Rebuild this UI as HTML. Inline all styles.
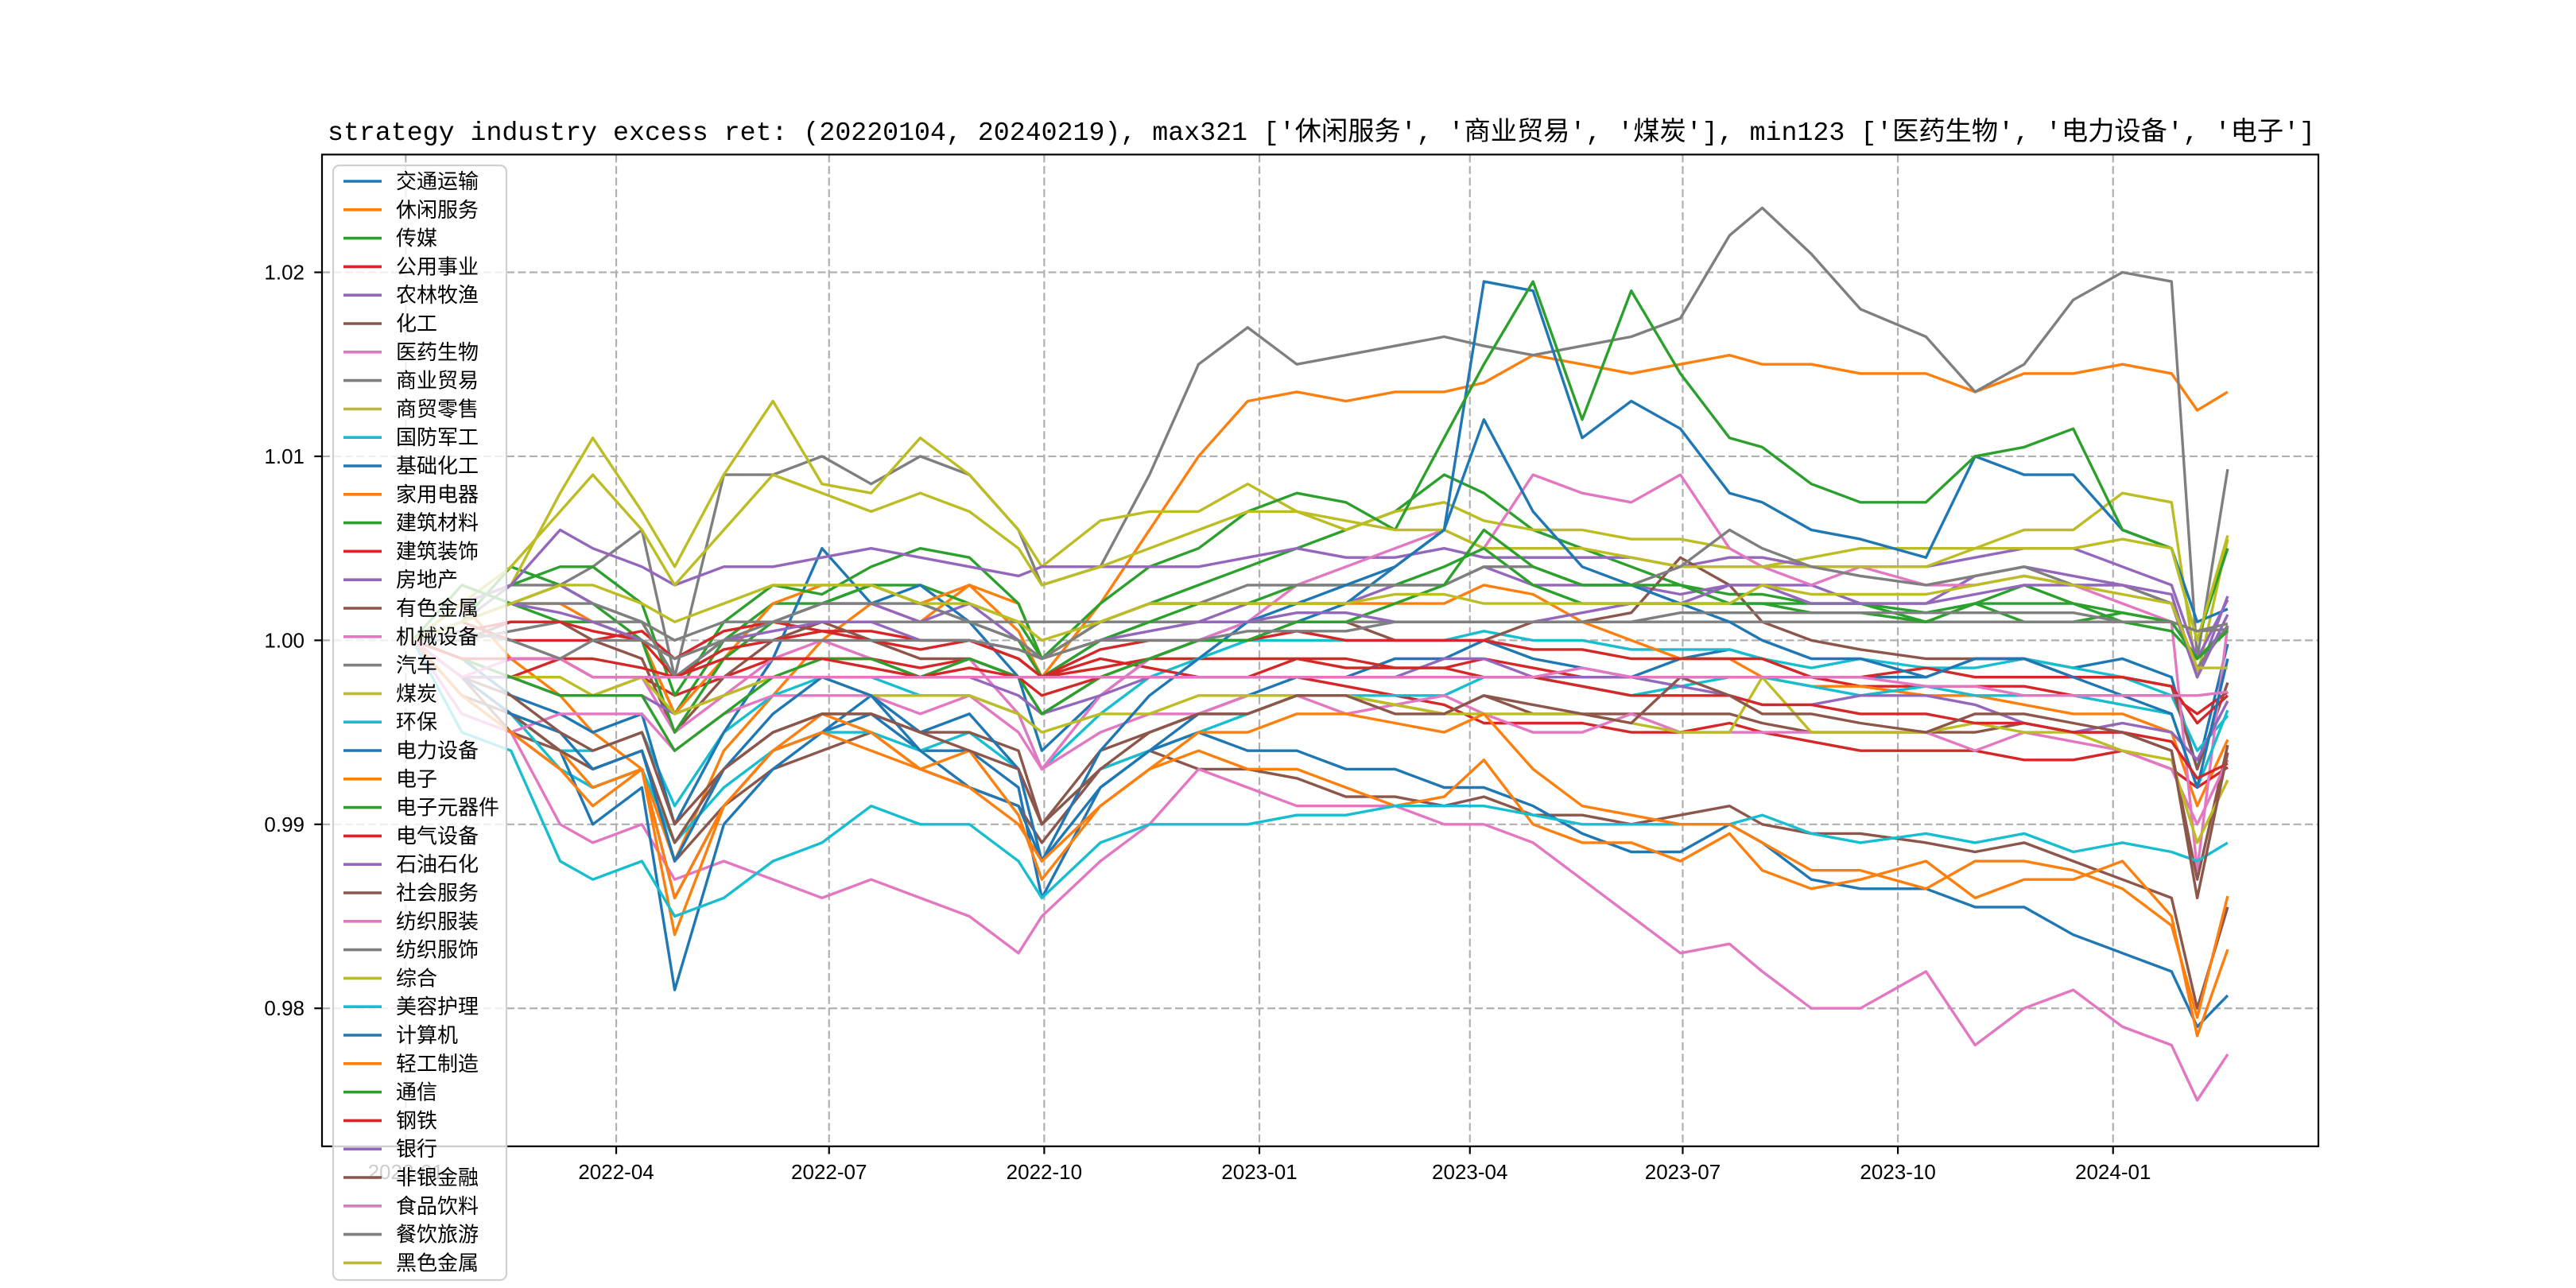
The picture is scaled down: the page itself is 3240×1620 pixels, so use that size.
<!DOCTYPE html>
<html><head><meta charset="utf-8"><style>
html,body{margin:0;padding:0;background:#fff;}
svg{display:block;font-family:"Liberation Sans","Noto Sans CJK SC",sans-serif;}
</style></head><body>
<svg id="chart" width="3240" height="1620" viewBox="0 0 3240 1620" xmlns="http://www.w3.org/2000/svg">
<rect x="0" y="0" width="3240" height="1620" fill="#fff"/>
<text x="1662" y="176" text-anchor="middle" font-size="33" textLength="2500" lengthAdjust="spacingAndGlyphs" font-family="Liberation Mono, Noto Sans CJK SC, monospace">strategy industry excess ret: (20220104, 20240219), max321 ['休闲服务', '商业贸易', '煤炭'], min123 ['医药生物', '电力设备', '电子']</text>
<g id="grid"></g>
<g id="series"></g>
<rect x="405" y="194.4" width="2511" height="1247.4" fill="none" stroke="#000" stroke-width="2.2"/>
<g id="ticks"></g>
<g id="legend"></g>
</svg>
<script>
const dates = ['2022-01-04','2022-01-25','2022-02-15','2022-03-08','2022-03-22','2022-04-12','2022-04-26','2022-05-17','2022-06-07','2022-06-28','2022-07-19','2022-08-09','2022-08-30','2022-09-20','2022-09-30','2022-10-25','2022-11-15','2022-12-06','2022-12-27','2023-01-17','2023-02-07','2023-02-28','2023-03-21','2023-04-07','2023-04-28','2023-05-19','2023-06-09','2023-06-30','2023-07-21','2023-08-04','2023-08-25','2023-09-15','2023-10-13','2023-11-03','2023-11-24','2023-12-15','2024-01-05','2024-01-26','2024-02-06','2024-02-19'];
const names = ['交通运输','休闲服务','传媒','公用事业','农林牧渔','化工','医药生物','商业贸易','商贸零售','国防军工','基础化工','家用电器','建筑材料','建筑装饰','房地产','有色金属','机械设备','汽车','煤炭','环保','电力设备','电子','电子元器件','电气设备','石油石化','社会服务','纺织服装','纺织服饰','综合','美容护理','计算机','轻工制造','通信','钢铁','银行','非银金融','食品饮料','餐饮旅游','黑色金属'];
const yTicks = [0.98, 0.99, 1.00, 1.01, 1.02];
const yTickLabels = ['0.98','0.99','1.00','1.01','1.02'];
const xTicks = ['2022-01-01','2022-04-01','2022-07-01','2022-10-01','2023-01-01','2023-04-01','2023-07-01','2023-10-01','2024-01-01'];
const xTickLabels = ['2022-01','2022-04','2022-07','2022-10','2023-01','2023-04','2023-07','2023-10','2024-01'];

const v00 = [1.0,0.997,0.995,0.993,0.992,0.993,0.986,0.991,0.994,0.995,0.996,0.994,0.994,0.992,0.986,0.992,0.994,0.996,0.997,0.998,0.998,0.999,0.999,1.000,0.999,0.9985,0.998,0.999,0.9995,0.999,0.998,0.998,0.998,0.999,0.999,0.9985,0.999,0.998,0.993,0.9998];
const v01 = [1.0,1.002,0.999,0.997,0.995,0.993,0.988,0.994,0.997,1.000,1.002,1.001,1.003,1.0005,0.998,1.002,1.006,1.010,1.013,1.0135,1.013,1.0135,1.0135,1.014,1.0155,1.015,1.0145,1.015,1.0155,1.015,1.015,1.0145,1.0145,1.0135,1.0145,1.0145,1.015,1.0145,1.0125,1.0135];
const v02 = [1.0,1.001,1.004,1.003,1.002,1.000,0.996,1.000,1.002,1.002,1.003,1.003,1.002,1.001,0.999,1.001,1.002,1.003,1.004,1.005,1.006,1.007,1.009,1.008,1.006,1.005,1.004,1.003,1.0025,1.0025,1.002,1.002,1.0015,1.002,1.001,1.001,1.0015,1.001,0.999,1.0005];
const v03 = [1.0,0.998,0.998,0.999,0.998,0.998,0.997,0.998,0.999,0.999,0.999,0.9985,0.999,0.998,0.998,0.9985,0.999,0.999,0.999,0.999,0.999,0.9985,0.9985,0.999,0.9985,0.998,0.998,0.998,0.998,0.998,0.998,0.9975,0.9975,0.9975,0.9975,0.997,0.997,0.997,0.996,0.9972];
const v04 = [1.0,1.001,1.002,1.003,1.002,1.001,0.998,1.0,1.001,1.002,1.002,1.001,1.002,1.0,0.998,1.0,1.001,1.001,1.002,1.002,1.002,1.003,1.003,1.004,1.003,1.003,1.003,1.0025,1.003,1.003,1.003,1.002,1.002,1.0035,1.004,1.0035,1.003,1.002,0.998,1.0024];
const v05 = [1.0,0.998,0.995,0.994,0.993,0.994,0.988,0.991,0.993,0.994,0.995,0.993,0.992,0.991,0.989,0.993,0.994,0.993,0.993,0.9925,0.9915,0.9915,0.991,0.9915,0.9905,0.9905,0.990,0.9905,0.991,0.990,0.9895,0.9895,0.989,0.9885,0.989,0.988,0.987,0.986,0.980,0.9855];
const v06 = [1.0,0.996,0.995,0.990,0.989,0.990,0.987,0.988,0.987,0.986,0.987,0.986,0.985,0.983,0.985,0.988,0.990,0.993,0.992,0.991,0.991,0.991,0.990,0.990,0.989,0.987,0.985,0.983,0.9835,0.982,0.980,0.980,0.982,0.978,0.980,0.981,0.979,0.978,0.975,0.9775];
const v07 = [1.0,1.001,1.003,1.003,1.004,1.006,0.998,1.009,1.009,1.010,1.0085,1.010,1.009,1.006,1.003,1.004,1.009,1.015,1.017,1.015,1.0155,1.016,1.0165,1.016,1.0155,1.016,1.0165,1.0175,1.022,1.0235,1.021,1.018,1.0165,1.0135,1.015,1.0185,1.020,1.0195,0.999,1.0093];
const v08 = [1.0,1.002,1.003,1.008,1.011,1.007,1.004,1.009,1.013,1.0085,1.008,1.011,1.009,1.006,1.004,1.0065,1.007,1.007,1.0085,1.007,1.006,1.007,1.0075,1.0065,1.006,1.006,1.0055,1.0055,1.005,1.004,1.0045,1.005,1.005,1.005,1.006,1.006,1.008,1.0075,0.998,1.0055];
const v09 = [1.0,0.998,0.996,0.994,0.994,0.995,0.991,0.995,0.997,0.998,0.998,0.997,0.997,0.996,0.993,0.996,0.998,0.999,1.0,1.0,1.0,1.0,1.0,1.0005,1.0,1.0,0.9995,0.9995,0.9995,0.999,0.9985,0.999,0.9985,0.9985,0.999,0.9985,0.998,0.997,0.994,0.9959];
const v10 = [1.0,0.999,0.997,0.996,0.995,0.996,0.990,0.995,0.999,1.005,1.002,1.003,1.001,0.998,0.994,0.997,0.999,1.000,1.001,1.001,1.002,1.004,1.006,1.0195,1.019,1.011,1.013,1.0115,1.008,1.0075,1.006,1.0055,1.0045,1.010,1.009,1.009,1.006,1.005,1.001,1.0017];
const v11 = [1.0,1.001,1.002,1.002,1.001,1.000,0.996,0.999,1.002,1.003,1.003,1.002,1.003,1.002,0.999,1.001,1.002,1.002,1.002,1.002,1.002,1.002,1.002,1.003,1.0025,1.001,1.0,0.999,0.999,0.998,0.9975,0.9975,0.997,0.997,0.9965,0.996,0.996,0.995,0.991,0.9946];
const v12 = [1.0,1.002,1.003,1.004,1.004,1.002,0.997,1.001,1.003,1.0025,1.004,1.005,1.0045,1.002,0.999,1.002,1.004,1.005,1.007,1.008,1.0075,1.006,1.011,1.015,1.0195,1.012,1.019,1.0145,1.011,1.0105,1.0085,1.0075,1.0075,1.010,1.0105,1.0115,1.006,1.005,1.000,1.005];
const v13 = [1.0,1.001,1.000,1.0,1.0,1.0005,0.999,1.0005,1.001,1.0005,1.0005,1.0,1.0,0.999,0.998,0.999,0.9985,0.998,0.998,0.998,0.9975,0.997,0.9965,0.9955,0.9955,0.9955,0.995,0.995,0.9955,0.995,0.9945,0.994,0.994,0.994,0.9935,0.9935,0.994,0.993,0.992,0.9931];
const v14 = [1.0,1.002,1.003,1.006,1.005,1.004,1.003,1.004,1.004,1.0045,1.005,1.0045,1.004,1.0035,1.004,1.004,1.004,1.004,1.0045,1.005,1.0045,1.0045,1.005,1.0045,1.0045,1.0045,1.0045,1.004,1.0045,1.0045,1.004,1.004,1.004,1.0045,1.005,1.005,1.004,1.003,0.999,1.0022];
const v15 = [1.0,1.0,1.001,1.001,1.0,0.999,0.995,0.998,1.0,1.001,1.0,0.999,0.999,0.998,0.996,0.998,0.999,1.0,1.0,1.001,1.001,1.0,1.0,1.0,1.001,1.001,1.0015,1.0045,1.003,1.001,1.0,0.9995,0.999,0.999,0.999,0.998,0.998,0.9975,0.993,0.9977];
const v16 = [1.0,0.999,0.998,0.997,0.997,0.998,0.995,0.997,0.999,1.000,0.999,0.998,0.999,0.996,0.993,0.997,0.999,1.000,1.001,1.003,1.004,1.005,1.006,1.005,1.009,1.008,1.0075,1.009,1.005,1.004,1.003,1.004,1.003,1.003,1.0035,1.003,1.002,1.001,0.9875,1.0008];
const v17 = [1.0,1.0,1.0005,1.001,1.001,1.001,1.0,1.001,1.001,1.001,1.001,1.001,1.001,1.001,1.001,1.001,1.001,1.001,1.001,1.001,1.001,1.001,1.001,1.001,1.001,1.001,1.001,1.001,1.001,1.001,1.001,1.001,1.001,1.001,1.001,1.001,1.001,1.001,1.0005,1.0006];
const v18 = [1.0,1.002,1.004,1.007,1.009,1.006,1.003,1.006,1.009,1.008,1.007,1.008,1.007,1.005,1.003,1.004,1.005,1.006,1.007,1.007,1.0065,1.006,1.006,1.005,1.005,1.005,1.0045,1.004,1.004,1.004,1.004,1.004,1.004,1.005,1.005,1.005,1.0055,1.005,1.0,1.0057];
const v19 = [1.0,0.997,0.996,0.993,0.992,0.993,0.989,0.992,0.994,0.995,0.995,0.994,0.995,0.993,0.990,0.993,0.994,0.995,0.996,0.997,0.997,0.997,0.997,0.998,0.998,0.9975,0.997,0.9975,0.998,0.998,0.9975,0.997,0.9975,0.997,0.997,0.997,0.9965,0.996,0.992,0.9962];
const v20 = [1.0,0.998,0.996,0.994,0.990,0.992,0.981,0.990,0.993,0.995,0.997,0.994,0.992,0.991,0.988,0.992,0.994,0.995,0.994,0.994,0.993,0.993,0.992,0.992,0.991,0.9895,0.9885,0.9885,0.990,0.989,0.987,0.9865,0.9865,0.9855,0.9855,0.984,0.983,0.982,0.979,0.9807];
const v21 = [1.0,0.998,0.996,0.994,0.992,0.993,0.984,0.991,0.994,0.996,0.995,0.993,0.994,0.9905,0.987,0.991,0.993,0.994,0.993,0.993,0.992,0.991,0.9915,0.9935,0.990,0.989,0.989,0.988,0.9895,0.9875,0.9865,0.987,0.988,0.986,0.987,0.987,0.988,0.985,0.9785,0.9832];
const v22 = [1.0,1.003,1.002,1.001,1.001,1.000,0.995,0.999,1.001,1.002,1.003,1.002,1.001,1.0,0.998,1.0,1.001,1.002,1.002,1.003,1.003,1.003,1.004,1.005,1.003,1.002,1.002,1.002,1.002,1.002,1.0015,1.0015,1.001,1.002,1.002,1.002,1.0015,1.001,0.999,1.0007];
const v23 = [1.0,1.0005,1.001,1.001,1.0005,1.0,0.998,0.9995,1.0,1.0005,1.0,0.9995,1.0,0.999,0.998,0.9995,1.0,1.0,1.0,1.0005,1.0,1.0,1.0,1.0,0.9995,0.9995,0.999,0.999,0.999,0.999,0.998,0.998,0.9985,0.998,0.998,0.998,0.998,0.9975,0.9955,0.997];
const v24 = [1.0,0.998,0.998,0.997,0.997,0.997,0.996,0.997,0.998,0.998,0.998,0.998,0.998,0.997,0.996,0.997,0.998,0.998,0.998,0.998,0.998,0.998,0.999,0.999,0.998,0.998,0.998,0.9975,0.997,0.9965,0.9965,0.997,0.997,0.9965,0.9955,0.995,0.9955,0.995,0.9935,0.9967];
const v25 = [1.0,0.997,0.996,0.994,0.993,0.994,0.989,0.993,0.995,0.996,0.996,0.995,0.995,0.994,0.990,0.994,0.995,0.996,0.996,0.997,0.997,0.9965,0.996,0.997,0.996,0.996,0.996,0.996,0.996,0.9955,0.995,0.995,0.995,0.995,0.9955,0.995,0.995,0.994,0.987,0.9943];
const v26 = [1.0,0.996,0.995,0.996,0.996,0.996,0.994,0.996,0.997,0.997,0.997,0.996,0.997,0.995,0.993,0.995,0.996,0.996,0.997,0.997,0.996,0.9965,0.997,0.996,0.995,0.995,0.996,0.995,0.995,0.995,0.995,0.995,0.995,0.994,0.995,0.9945,0.994,0.993,0.990,0.9935];
const v27 = [1.0,1.001,1.002,1.002,1.002,1.001,0.998,1.0,1.001,1.002,1.002,1.002,1.001,1.0,0.999,1.001,1.002,1.002,1.003,1.003,1.003,1.003,1.003,1.004,1.004,1.003,1.003,1.004,1.006,1.005,1.004,1.0035,1.003,1.0035,1.004,1.003,1.003,1.002,0.9985,1.0008];
const v28 = [1.0,0.999,0.998,0.998,0.997,0.998,0.996,0.997,0.998,0.998,0.997,0.997,0.997,0.996,0.995,0.996,0.996,0.997,0.997,0.997,0.997,0.9965,0.996,0.996,0.996,0.996,0.9955,0.995,0.995,0.998,0.995,0.995,0.995,0.9955,0.995,0.995,0.994,0.9935,0.989,0.9924];
const v29 = [1.0,0.995,0.994,0.988,0.987,0.988,0.985,0.986,0.988,0.989,0.991,0.990,0.990,0.988,0.986,0.989,0.990,0.990,0.990,0.9905,0.9905,0.991,0.991,0.991,0.9905,0.990,0.990,0.990,0.990,0.9905,0.9895,0.989,0.9895,0.989,0.9895,0.9885,0.989,0.9885,0.988,0.989];
const v30 = [1.0,0.998,0.996,0.995,0.993,0.994,0.988,0.993,0.996,0.998,0.997,0.995,0.996,0.993,0.988,0.994,0.997,0.999,1.001,1.002,1.003,1.004,1.006,1.012,1.007,1.004,1.003,1.002,1.001,1.0,0.999,0.999,0.998,0.999,0.999,0.998,0.997,0.996,0.992,0.999];
const v31 = [1.0,0.997,0.995,0.993,0.991,0.993,0.986,0.991,0.994,0.995,0.994,0.993,0.992,0.990,0.988,0.991,0.993,0.995,0.995,0.996,0.996,0.9955,0.995,0.996,0.993,0.991,0.9905,0.990,0.990,0.989,0.9875,0.9875,0.9865,0.988,0.988,0.9875,0.9865,0.9845,0.9795,0.9861];
const v32 = [1.0,0.999,0.998,0.997,0.997,0.997,0.994,0.996,0.998,0.999,0.999,0.998,0.999,0.998,0.996,0.998,0.999,1.0,1.0,1.001,1.001,1.002,1.003,1.006,1.004,1.003,1.003,1.003,1.002,1.002,1.002,1.002,1.001,1.002,1.003,1.002,1.001,1.0005,0.999,1.0005];
const v33 = [1.0,0.999,0.999,0.999,0.999,0.9985,0.998,0.999,0.999,0.999,0.9985,0.998,0.9985,0.998,0.997,0.998,0.998,0.998,0.998,0.999,0.9985,0.9985,0.9985,0.998,0.998,0.9975,0.997,0.997,0.997,0.9965,0.9965,0.996,0.996,0.9955,0.9955,0.995,0.995,0.9945,0.9925,0.9933];
const v34 = [1.0,1.001,1.002,1.0015,1.001,1.0,0.999,1.0,1.0005,1.001,1.001,1.0,1.0,0.9995,0.999,1.0,1.0005,1.001,1.001,1.0015,1.0015,1.001,1.001,1.001,1.001,1.0015,1.002,1.002,1.003,1.003,1.002,1.002,1.002,1.0025,1.003,1.003,1.003,1.0025,0.998,1.0014];
const v35 = [1.0,0.998,0.997,0.995,0.994,0.995,0.990,0.993,0.995,0.996,0.996,0.995,0.994,0.993,0.990,0.993,0.995,0.996,0.996,0.997,0.997,0.996,0.996,0.997,0.9965,0.996,0.9955,0.998,0.997,0.996,0.996,0.9955,0.995,0.996,0.996,0.9955,0.995,0.994,0.986,0.9939];
const v36 = [1.0,0.998,0.999,0.999,0.998,0.998,0.998,0.998,0.998,0.998,0.998,0.998,0.998,0.998,0.998,0.998,0.998,0.998,0.998,0.998,0.998,0.998,0.998,0.998,0.998,0.9985,0.998,0.998,0.998,0.998,0.998,0.998,0.9975,0.9975,0.997,0.997,0.997,0.997,0.997,0.9972];
const v37 = [1.0,1.0005,1.0,0.999,1.0,1.0,0.999,1.0,1.0,1.0,1.0,1.0,1.0,0.9995,0.999,1.0,1.0,1.0,1.0005,1.0005,1.0005,1.001,1.001,1.001,1.001,1.001,1.001,1.0015,1.0015,1.0015,1.0015,1.0015,1.0015,1.0015,1.0015,1.0015,1.001,1.001,1.0005,1.0009];
const v38 = [1.0,1.001,1.002,1.003,1.003,1.002,1.001,1.002,1.003,1.003,1.003,1.002,1.002,1.001,1.0,1.001,1.002,1.002,1.002,1.002,1.002,1.0025,1.0025,1.002,1.002,1.002,1.002,1.002,1.002,1.003,1.0025,1.0025,1.0025,1.003,1.0035,1.003,1.0025,1.002,0.9985,0.9985];

const seriesList = [v00,v01,v02,v03,v04,v05,v06,v07,v08,v09,v10,v11,v12,v13,v14,v15,v16,v17,v18,v19,v20,v21,v22,v23,v24,v25,v26,v27,v28,v29,v30,v31,v32,v33,v34,v35,v36,v37,v38];
const palette = ['#1f77b4','#ff7f0e','#2ca02c','#d62728','#9467bd','#8c564b','#e377c2','#7f7f7f','#bcbd22','#17becf'];

const NS = 'http://www.w3.org/2000/svg';
const L = 405, R = 2916, T = 194.4, B = 1441.8;
const t0 = Date.parse(dates[0]), t1 = Date.parse(dates[dates.length - 1]);
const pad = (t1 - t0) * 0.05;
const xmin = t0 - pad, xmax = t1 + pad;
const ymin = 0.9725, ymax = 1.0264;
function xs(d) { return L + (Date.parse(d) - xmin) / (xmax - xmin) * (R - L); }
function ys(v) { return B - (v - ymin) / (ymax - ymin) * (B - T); }
function mk(tag, attrs, parent) {
  const e = document.createElementNS(NS, tag);
  for (const k in attrs) e.setAttribute(k, attrs[k]);
  parent.appendChild(e);
  return e;
}

const grid = document.getElementById('grid');
const ticks = document.getElementById('ticks');
yTicks.forEach((v, i) => {
  const y = ys(v);
  const g = mk('line', {x1: L, x2: R, y1: y, y2: y, stroke: '#b0b0b0', 'stroke-width': 2.2, 'stroke-dasharray': '10 4.5'}, grid);
  
  
  const tk = mk('line', {x1: L - 9.7, x2: L, y1: y, y2: y, stroke: '#000', 'stroke-width': 2.2}, ticks);
  
  
  const tx = mk('text', {x: L - 22, y: y + 9, 'text-anchor': 'end', 'font-size': 26}, ticks);
  
  
  tx.textContent = yTickLabels[i];
});
xTicks.forEach((d, i) => {
  const x = xs(d);
  const g = mk('line', {x1: x, x2: x, y1: T, y2: B, stroke: '#b0b0b0', 'stroke-width': 2.2, 'stroke-dasharray': '10 4.5'}, grid);
  
  
  const tk = mk('line', {x1: x, x2: x, y1: B, y2: B + 9.7, stroke: '#000', 'stroke-width': 2.2}, ticks);
  
  
  const tx = mk('text', {x: x, y: B + 41, 'text-anchor': 'middle', 'font-size': 26}, ticks);
  
  
  tx.textContent = xTickLabels[i];
});

const sg = document.getElementById('series');
seriesList.forEach((vals, i) => {
  const pts = vals.map((v, j) => xs(dates[j]).toFixed(1) + ',' + ys(v).toFixed(1)).join(' ');
  const pl = mk('polyline', {points: pts, fill: 'none', stroke: palette[i % 10], 'stroke-width': 3.4, 'stroke-linejoin': 'round'}, sg);
  
  
});

const lg = document.getElementById('legend');
const box = mk('rect', {x: 419, y: 208, width: 218, height: 1402, rx: 8, fill: 'rgba(255,255,255,0.8)', stroke: '#d0d0d0', 'stroke-width': 2.2}, lg);


names.forEach((n, i) => {
  const y = 228 + i * 35.8;
  const ln = mk('line', {x1: 432, x2: 480, y1: y, y2: y, stroke: palette[i % 10], 'stroke-width': 3.6}, lg);
  
  
  const tx = mk('text', {x: 498, y: y + 9, 'font-size': 26}, lg);
  
  
  tx.textContent = n;
});
</script>
</body></html>
